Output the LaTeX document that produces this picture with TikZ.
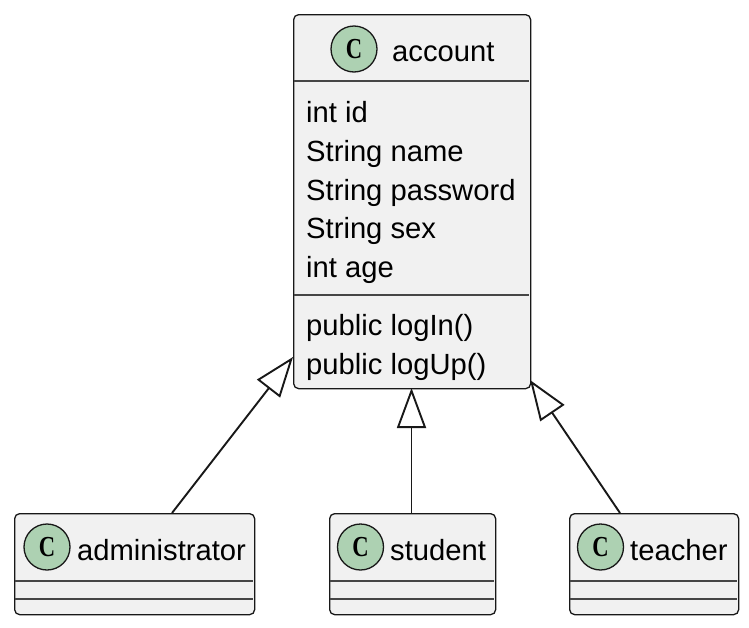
\documentclass[tikz,border=0pt]{standalone}
\usepackage{fontspec}
\setmainfont{Liberation Sans}
\newfontfamily\iconfont{Liberation Serif}
\usetikzlibrary{arrows.meta}
\definecolor{boxfill}{HTML}{F1F1F1}
\definecolor{boxline}{HTML}{181818}
\definecolor{iconfill}{HTML}{ADD1B2}
\tikzset{
  classbox/.style={draw=boxline, fill=boxfill, rounded corners=5pt, line width=1.3pt, inner sep=0pt, anchor=north west},
  sepline/.style={draw=boxline!80, line width=1.2pt},
  icon/.style={circle, draw=boxline, fill=iconfill, line width=1.3pt, minimum size=46pt, inner sep=0pt, font=\iconfont\fontsize{29}{29}\selectfont},
  txt/.style={anchor=base west, inner sep=0pt, text=black, font=\fontsize{29.2}{35}\selectfont},
  extends/.style={draw=boxline, line width=1.9pt, -{Triangle[open, length=40pt, width=29pt, line width=1.9pt]}}
}
\newcommand{\iconC}{\scalebox{0.78}[1]{\bfseries C}}
\begin{document}
\begin{tikzpicture}[x=1pt, y=-1pt]
\useasboundingbox (0,0) rectangle (749,627);
% account
\node[classbox, minimum width=237pt, minimum height=374pt] (account) at (293,14) {};
\draw[sepline] (293.6,81) -- (529.4,81);
\draw[sepline] (293.6,295) -- (529.4,295);
\node[icon] (accicon) at (354,49) {\iconC};
\node[txt] (accname) at (392,61) {account};
\node[txt] (a1) at (306,122.3) {int id};
\node[txt] (a2) at (306,161.2) {String name};
\node[txt] (a3) at (306,200) {String password};
\node[txt] (a4) at (306,238.6) {String sex};
\node[txt] (a5) at (306,277) {int age};
\node[txt] (m1) at (306,335.5) {public logIn()};
\node[txt] (m2) at (306,374) {public logUp()};
% administrator
\node[classbox, minimum width=240pt, minimum height=101pt] (admin) at (14,513) {};
\draw[sepline] (14.6,581) -- (253.4,581);
\draw[sepline] (14.6,599) -- (253.4,599);
\node[icon] (admicon) at (47,547) {\iconC};
\node[txt] (admname) at (77,560) {administrator};
% student
\node[classbox, minimum width=166pt, minimum height=101pt] (student) at (329,513) {};
\draw[sepline] (329.6,581) -- (494.4,581);
\draw[sepline] (329.6,599) -- (494.4,599);
\node[icon] (stuicon) at (360.5,547) {\iconC};
\node[txt] (stuname) at (390,560) {student};
% teacher
\node[classbox, minimum width=169pt, minimum height=101pt] (teacher) at (569,513) {};
\draw[sepline] (569.6,581) -- (737.4,581);
\draw[sepline] (569.6,599) -- (737.4,599);
\node[icon] (teaicon) at (600.5,547) {\iconC};
\node[txt] (teaname) at (630,560) {teacher};
% connectors
\coordinate (admtop) at (172,513);
\coordinate (accleft) at (293,357);
\coordinate (stutop) at (411.5,513);
\coordinate (accbottom) at (411.5,388);
\coordinate (teatop) at (620,513);
\coordinate (accright) at (530,380);
\draw[extends] (admtop) -- (accleft);
\draw[extends] (stutop) -- (accbottom);
\draw[extends] (teatop) -- (accright);
\end{tikzpicture}
\end{document}
